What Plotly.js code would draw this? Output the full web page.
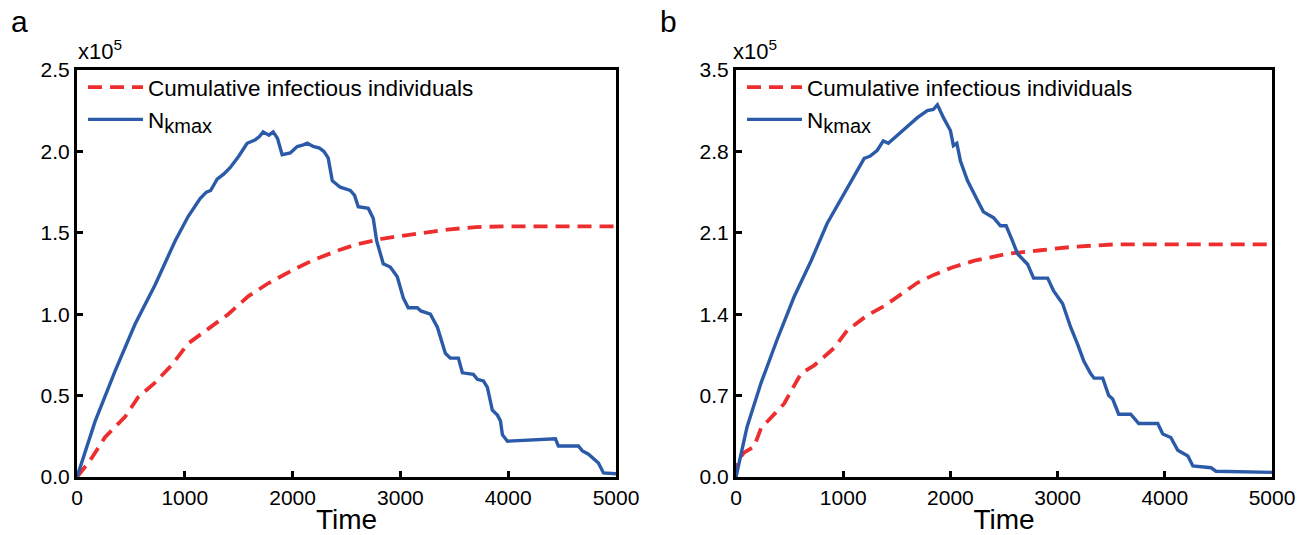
<!DOCTYPE html>
<html>
<head>
<meta charset="utf-8">
<script src="https://cdn.plot.ly/plotly-3.0.1.min.js"></script>
<style>html,body{margin:0;padding:0;background:#fff;}#chart{width:1315px;height:535px;}</style>
</head>
<body>
<div id="chart"></div>
<script>
// Panel a (values in units of 10^5)
const timeA_N = [0,167,353,539,724,910,1031,1142,1200,1240,1300,1360,1420,1500,1578,1650,1690,1727,1780,1820,1860,1903,1978,2043,2100,2136,2191,2250,2290,2330,2368,2442,2535,2575,2609,2702,2748,2780,2841,2906,2971,3027,3073,3157,3190,3278,3343,3370,3417,3463,3538,3575,3677,3714,3770,3807,3853,3900,3928,3946,3993,4438,4466,4652,4689,4745,4791,4837,4884,5000];
const nkmaxA = [0,0.34,0.65,0.94,1.18,1.45,1.60,1.71,1.75,1.76,1.83,1.86,1.90,1.97,2.05,2.07,2.09,2.12,2.10,2.12,2.08,1.98,1.99,2.03,2.04,2.05,2.03,2.02,2.00,1.96,1.82,1.78,1.76,1.73,1.66,1.65,1.59,1.45,1.31,1.29,1.23,1.10,1.04,1.04,1.02,1.00,0.92,0.86,0.76,0.73,0.73,0.64,0.63,0.60,0.59,0.55,0.41,0.38,0.345,0.26,0.22,0.235,0.19,0.19,0.16,0.14,0.11,0.086,0.025,0.02];
const timeA_C = [0,120,260,446,567,724,882,1031,1217,1403,1588,1774,1997,2183,2414,2600,2841,3000,3213,3436,3700,4000,4500,5000];
const cumA = [0,0.10,0.245,0.37,0.49,0.58,0.69,0.82,0.91,1.00,1.11,1.19,1.27,1.33,1.39,1.43,1.465,1.48,1.50,1.52,1.535,1.54,1.54,1.54];

// Panel b (values in units of 10^5)
const timeB_N = [0,103,234,383,542,701,850,1009,1196,1224,1252,1318,1374,1421,1533,1692,1785,1840,1879,1935,2000,2028,2060,2093,2159,2215,2252,2308,2402,2467,2520,2579,2626,2720,2776,2907,2963,3047,3121,3187,3243,3308,3340,3421,3477,3514,3570,3682,3757,3934,3981,4056,4121,4215,4262,4430,4477,5000];
const nkmaxB = [0,0.43,0.81,1.18,1.55,1.86,2.18,2.44,2.74,2.75,2.76,2.81,2.89,2.87,2.96,3.09,3.15,3.16,3.20,3.09,2.98,2.85,2.87,2.72,2.55,2.44,2.38,2.28,2.23,2.16,2.16,2.03,1.92,1.83,1.71,1.71,1.60,1.49,1.29,1.14,1.00,0.89,0.85,0.85,0.70,0.67,0.54,0.54,0.46,0.46,0.37,0.34,0.23,0.18,0.095,0.08,0.05,0.04];
const timeB_C = [0,9,75,168,234,327,449,514,607,729,822,916,1037,1224,1383,1542,1692,1850,2009,2224,2533,2841,3150,3523,3776,5000];
const cumB = [0,0.13,0.21,0.26,0.42,0.51,0.63,0.74,0.89,0.96,1.03,1.11,1.26,1.39,1.47,1.57,1.67,1.74,1.80,1.86,1.92,1.95,1.98,2.00,2.00,2.00];

const xTicks = [0,1000,2000,3000,4000,5000];
const yTicksA = [0,0.5,1.0,1.5,2.0,2.5];
const yTicksB = [0,0.7,1.4,2.1,2.8,3.5];
const nameCum = 'Cumulative infectious individuals';
const nameN = 'N<sub><span style="font-size:20px">kmax</span></sub>';

const RED = '#ee2e2e', BLUE = '#2a5aa8';
const FONT = 'Arial, "Liberation Sans", Helvetica, sans-serif';

const traces = [
  {x: timeA_C, y: cumA, xaxis:'x', yaxis:'y', name: nameCum, mode:'lines', legend:'legend',
   line:{color:RED, width:3.8, dash:'14px,8px'}},
  {x: timeA_N, y: nkmaxA, xaxis:'x', yaxis:'y', name: nameN, mode:'lines', legend:'legend',
   line:{color:BLUE, width:3.4}},
  {x: timeB_C, y: cumB, xaxis:'x2', yaxis:'y2', name: nameCum, mode:'lines', legend:'legend2',
   line:{color:RED, width:3.8, dash:'14px,8px'}},
  {x: timeB_N, y: nkmaxB, xaxis:'x2', yaxis:'y2', name: nameN, mode:'lines', legend:'legend2',
   line:{color:BLUE, width:3.4}}
];

function xax(dom, anchor){
  return {domain:dom, anchor:anchor, range:[0,5000], tickvals:xTicks, ticktext:xTicks.map(String),
    showline:true, linecolor:'#000', linewidth:3, mirror:true, ticks:'inside', ticklen:6, tickwidth:3,
    tickcolor:'#000', showgrid:false, zeroline:false, automargin:false,
    tickfont:{family:FONT, size:21, color:'#000'},
    title:{text:'Time', font:{family:FONT, size:28, color:'#000'}, standoff:2}};
}
function yax(dom, anchor, ticks){
  return {domain:dom, anchor:anchor, range:[0, ticks[ticks.length-1]], tickvals:ticks,
    ticktext:ticks.map(v=>v.toFixed(1)),
    showline:true, linecolor:'#000', linewidth:3, mirror:true, ticks:'inside', ticklen:6, tickwidth:3,
    tickcolor:'#000', showgrid:false, zeroline:false, automargin:false,
    tickfont:{family:FONT, size:21, color:'#000'}};
}
const yDom = [1-477/535, 1-70/535];
const legendBase = {bgcolor:'rgba(0,0,0,0)', borderwidth:0, font:{family:FONT, size:22.5, color:'#000'},
  yanchor:'top', xanchor:'left', tracegroupgap:0, itemwidth:55};

const layout = {
  width:1315, height:535, margin:{l:0,r:0,t:0,b:0}, paper_bgcolor:'#fff', plot_bgcolor:'#fff',
  showlegend:true,
  xaxis: xax([77/1315, 616/1315], 'y'),
  yaxis: yax(yDom, 'x', yTicksA),
  xaxis2: xax([736/1315, 1272/1315], 'y2'),
  yaxis2: yax(yDom, 'x2', yTicksB),
  legend: Object.assign({}, legendBase, {x:83/1315, y:1-66/535}),
  legend2: Object.assign({}, legendBase, {x:742/1315, y:1-66/535}),
  annotations:[
    {text:'a', xref:'paper', yref:'paper', x:9/1315, y:1-21/535, xanchor:'left', yanchor:'middle', showarrow:false,
     font:{family:FONT, size:30, color:'#000'}},
    {text:'b', xref:'paper', yref:'paper', x:658/1315, y:1-21/535, xanchor:'left', yanchor:'middle', showarrow:false,
     font:{family:FONT, size:30, color:'#000'}},
    {text:'x10<sup>5</sup>', xref:'paper', yref:'paper', x:76/1315, y:1-50/535, xanchor:'left', yanchor:'middle', showarrow:false,
     font:{family:FONT, size:22, color:'#000'}},
    {text:'x10<sup>5</sup>', xref:'paper', yref:'paper', x:731/1315, y:1-50/535, xanchor:'left', yanchor:'middle', showarrow:false,
     font:{family:FONT, size:22, color:'#000'}}
  ]
};

Plotly.newPlot('chart', traces, layout, {displayModeBar:false, staticPlot:true});
</script>
</body>
</html>
